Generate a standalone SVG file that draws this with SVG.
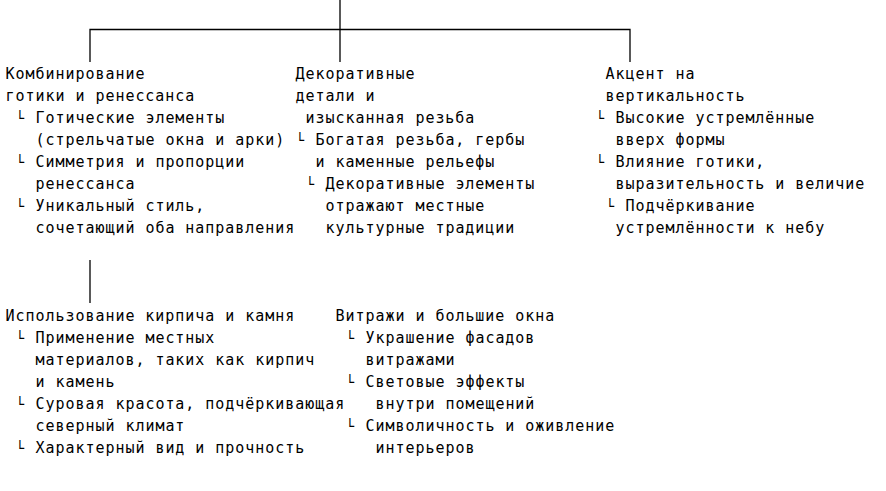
<svg xmlns="http://www.w3.org/2000/svg" width="886" height="491" viewBox="0 0 886 491">
<style>
text{font-family:"DejaVu Sans Mono","Liberation Mono",monospace;font-size:15px;letter-spacing:0.96px;fill:#000}
text.t{font-size:14px;letter-spacing:0}
.c{stroke:#000;stroke-width:1.3;fill:none}
</style>
<rect width="886" height="491" fill="#fff"/>
<g id="connectors">
<path class="c" d="M340 0V62M90 62V29.5H630V62"/>
<path class="c" d="M90 260V303"/>
</g>
<g id="node-combination">
<text x="5.5" y="79">Комбинирование</text>
<text x="5.5" y="101">готики и ренессанса</text>
<text class="t" x="15.5" y="123">└</text>
<text x="35.5" y="123">Готические элементы</text>
<text x="35.5" y="145">(стрельчатые окна и арки)</text>
<text class="t" x="15.5" y="167">└</text>
<text x="35.5" y="167">Симметрия и пропорции</text>
<text x="35.5" y="189">ренессанса</text>
<text class="t" x="15.5" y="211">└</text>
<text x="35.5" y="211">Уникальный стиль,</text>
<text x="35.5" y="233">сочетающий оба направления</text>
</g>
<g id="node-decor">
<text x="295.5" y="79">Декоративные</text>
<text x="295.5" y="101">детали и</text>
<text x="305.5" y="123">изысканная резьба</text>
<text class="t" x="295.5" y="145">└</text>
<text x="315.5" y="145">Богатая резьба, гербы</text>
<text x="315.5" y="167">и каменные рельефы</text>
<text class="t" x="305.5" y="189">└</text>
<text x="325.5" y="189">Декоративные элементы</text>
<text x="325.5" y="211">отражают местные</text>
<text x="325.5" y="233">культурные традиции</text>
</g>
<g id="node-vertical">
<text x="605.5" y="79">Акцент на</text>
<text x="605.5" y="101">вертикальность</text>
<text class="t" x="595.5" y="123">└</text>
<text x="615.5" y="123">Высокие устремлённые</text>
<text x="615.5" y="145">вверх формы</text>
<text class="t" x="595.5" y="167">└</text>
<text x="615.5" y="167">Влияние готики,</text>
<text x="615.5" y="189">выразительность и величие</text>
<text class="t" x="605.5" y="211">└</text>
<text x="625.5" y="211">Подчёркивание</text>
<text x="615.5" y="233">устремлённости к небу</text>
</g>
<g id="node-brick">
<text x="5.5" y="321">Использование кирпича и камня</text>
<text class="t" x="15.5" y="343">└</text>
<text x="35.5" y="343">Применение местных</text>
<text x="35.5" y="365">материалов, таких как кирпич</text>
<text x="35.5" y="387">и камень</text>
<text class="t" x="15.5" y="409">└</text>
<text x="35.5" y="409">Суровая красота, подчёркивающая</text>
<text x="35.5" y="431">северный климат</text>
<text class="t" x="15.5" y="453">└</text>
<text x="35.5" y="453">Характерный вид и прочность</text>
</g>
<g id="node-stained-glass">
<text x="335.5" y="321">Витражи и большие окна</text>
<text class="t" x="345.5" y="343">└</text>
<text x="365.5" y="343">Украшение фасадов</text>
<text x="365.5" y="365">витражами</text>
<text class="t" x="345.5" y="387">└</text>
<text x="365.5" y="387">Световые эффекты</text>
<text x="375.5" y="409">внутри помещений</text>
<text class="t" x="345.5" y="431">└</text>
<text x="365.5" y="431">Символичность и оживление</text>
<text x="375.5" y="453">интерьеров</text>
</g>
</svg>
